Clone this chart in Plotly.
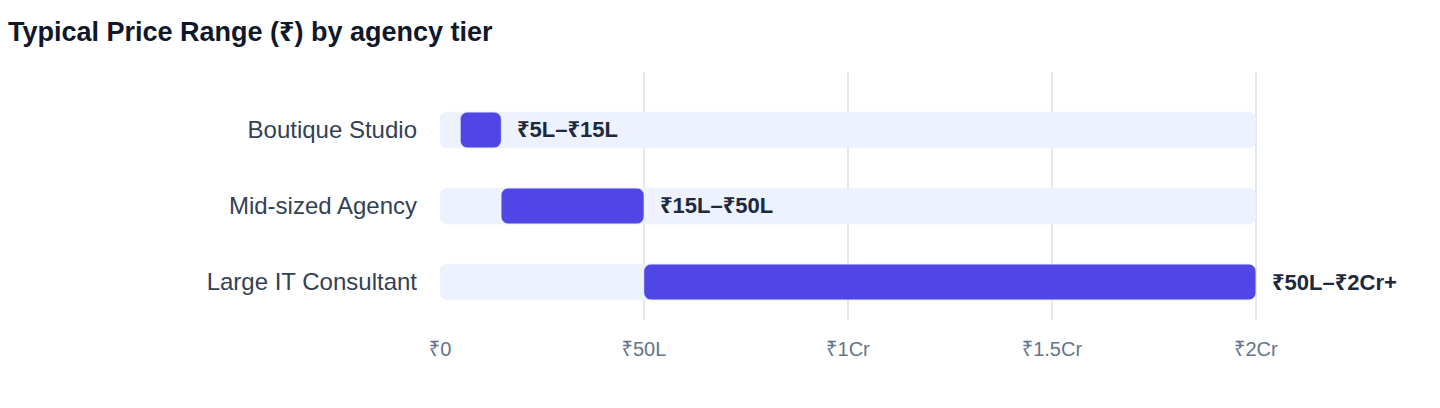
import plotly.graph_objects as go

# tiers and their price range in lakhs (₹)
tiers = ["Boutique Studio", "Mid-sized Agency", "Large IT Consultant"]
low_lakh = [5, 15, 50]
high_lakh = [15, 50, 200]
range_labels = ["₹5L–₹15L", "₹15L–₹50L", "₹50L–₹2Cr+"]
scale_max = [200, 200, 200]

tick_vals = [0, 50, 100, 150, 200]
tick_text = ["₹0", "₹50L", "₹1Cr", "₹1.5Cr", "₹2Cr"]

FONT = "Liberation Sans, Arial, Noto Sans, sans-serif"
INDIGO = "#4F46E5"
TRACK = "#EEF2FF"

fig = go.Figure()

# light background track
fig.add_trace(go.Bar(
    y=tiers, x=scale_max, base=[0] * len(tiers),
    orientation="h", width=0.47,
    marker=dict(color=TRACK),
    hoverinfo="skip", showlegend=False,
))

# actual price range
fig.add_trace(go.Bar(
    y=tiers,
    x=[h - l for l, h in zip(low_lakh, high_lakh)],
    base=low_lakh,
    orientation="h", width=0.47,
    marker=dict(color=INDIGO),
    customdata=range_labels,
    hovertemplate="%{y}: %{customdata}<extra></extra>",
    showlegend=False,
))

# bold labels right after each bar
for t, h, lab in zip(tiers, high_lakh, range_labels):
    fig.add_annotation(
        x=h, y=t, xref="x", yref="y",
        text=f"<b>{lab}</b>", showarrow=False,
        xanchor="left", xshift=14,
        font=dict(family=FONT, size=22, color="#1E293B"),
    )

fig.update_layout(
    width=1432, height=400,
    barmode="overlay",
    barcornerradius=7,
    paper_bgcolor="white", plot_bgcolor="white",
    margin=dict(l=432, r=21, t=64, b=88),
    title=dict(
        text="<b>Typical Price Range (₹) by agency tier</b>",
        x=0.0, xref="container", xanchor="left",
        y=1 - 24 / 400, yref="container", yanchor="middle",
        font=dict(family=FONT, size=27, color="#0F172A"),
    ),
    xaxis=dict(
        range=[0, 240],
        tickvals=tick_vals, ticktext=tick_text,
        showgrid=True, gridcolor="#E2E8F0", gridwidth=1.5,
        zeroline=False, showline=False,
        ticklabelstandoff=15,
        tickfont=dict(family=FONT, size=20, color="#64748B"),
    ),
    yaxis=dict(
        categoryorder="array", categoryarray=tiers,
        range=[2.5, -0.763],
        showgrid=False, zeroline=False, showline=False,
        ticklabelstandoff=22,
        tickfont=dict(family=FONT, size=24, color="#334155"),
    ),
)

fig.write_html("out.html")
